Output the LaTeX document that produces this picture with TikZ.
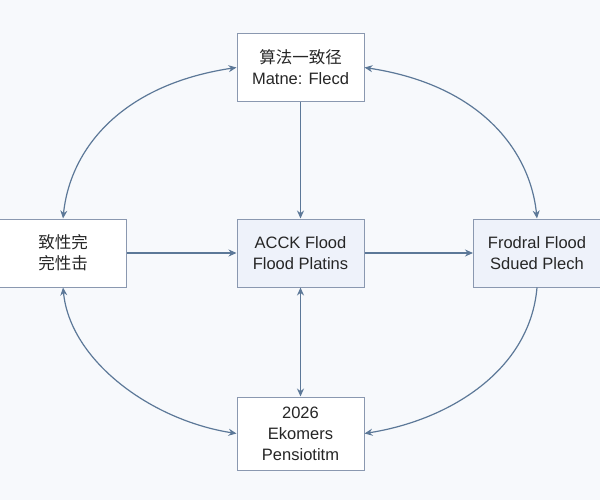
\documentclass[tikz,border=0pt]{standalone}
\usepackage{fontspec}
\setmainfont{Liberation Sans}
\newfontfamily\cjk{Noto Sans CJK SC}
\usetikzlibrary{arrows.meta}
\definecolor{bg}{HTML}{F7F9FC}
\definecolor{edge}{HTML}{8A98B0}
\definecolor{arr}{HTML}{5C7898}
\definecolor{fillb}{HTML}{EEF2FA}
\begin{document}
\begin{tikzpicture}[x=1pt,y=-1pt,
  box/.style={draw=edge,line width=1pt,minimum width=127pt,minimum height=68pt,align=center,font=\fontsize{16.5}{21}\selectfont,text=black!85},
  con/.style={draw=arr,line width=1.2pt,-{Stealth[length=8pt,width=7pt]}},
  dcon/.style={con,{Stealth[length=8pt,width=7pt]}-{Stealth[length=8pt,width=7pt]}}]
\fill[bg] (0,0) rectangle (600,500);
\useasboundingbox (0,0) rectangle (600,500);
\node[box,fill=white] (t) at (300.5,67.5) {{\cjk 算法一致径}\\Matne: Flecd};
\node[box,fill=white] (l) at (63,253) {{\cjk 致性完}\\{\cjk 完性击}};
\node[box,fill=fillb] (c) at (300.5,253) {ACCK Flood\\Flood Platins};
\node[box,fill=fillb] (r) at (537,253) {Frodral Flood\\Sdued Plech};
\node[box,fill=white,minimum height=73pt] (b) at (300.5,433.5) {2026\\Ekomers\\Pensiotitm};
\draw[con] (t) -- (c);
\draw[con] (l) -- (c);
\draw[con] (c) -- (r);
\draw[dcon] (c) -- (b);
\draw[dcon] (t.west) .. controls (120,85) and (70,150) .. (l.north);
\draw[dcon] (t.east) .. controls (480,85) and (530,150) .. (r.north);
\draw[con] (r.south) .. controls (530,370) and (450,420) .. (b.east);
\draw[dcon] (l.south) .. controls (70,360) and (150,420) .. (b.west);
\end{tikzpicture}
\end{document}
